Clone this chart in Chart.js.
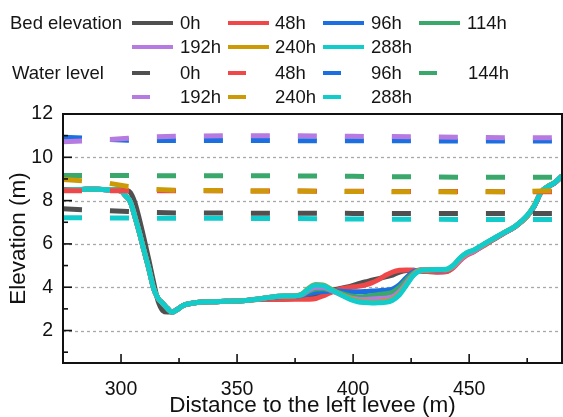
<!DOCTYPE html>
<html>
<head>
<meta charset="utf-8">
<script src="https://cdn.jsdelivr.net/npm/chart.js@4.4.1/dist/chart.umd.min.js"></script>
<style>
  html, body { margin: 0; padding: 0; background: #fff; }
  #wrap { position: relative; width: 563px; height: 417px; overflow: hidden; }
  #c { position: absolute; left: 0; top: 0; }
  #legend { position: absolute; left: 0; top: 0; width: 563px; height: 110px; font-family: "Liberation Sans", Arial, sans-serif; font-size: 18.5px; color: #151515; }
  #legend .t { position: absolute; line-height: 20px; white-space: nowrap; transform: translateY(-50%); }
  #legend .s { position: absolute; height: 4px; transform: translateY(-50%); }
</style>
</head>
<body>
<div id="wrap">
  <canvas id="c" width="563" height="417"></canvas>
  <div id="legend"></div>
</div>
<script>
// ---------------- DATA ----------------
const bedX = [275,280,285,290,295,300,302,304,306,308,310,312,314,316,318,320,322,324,327,330,335,340,345,350,355,360,365,370,375,378,381,384,387,390,393,396,399,402,405,408,411,414,417,420,423,426,429,432,436,440,443,446,449,452,456,460,465,470,475,478,481,484,487,490];

const bed0h   = [8.50,8.50,8.52,8.52,8.50,8.50,8.48,8.38,7.90,7.10,6.20,5.25,4.25,3.35,2.92,2.85,2.85,2.97,3.17,3.25,3.32,3.33,3.35,3.36,3.40,3.45,3.45,3.45,3.48,3.52,3.60,3.68,3.76,3.84,3.91,3.98,4.05,4.15,4.24,4.32,4.40,4.48,4.56,4.70,4.77,4.78,4.75,4.72,4.70,4.72,4.92,5.28,5.52,5.66,5.92,6.18,6.50,6.81,7.28,7.73,8.38,8.63,8.83,9.13];
const bed48h  = [8.47,8.50,8.52,8.52,8.50,8.44,8.22,7.95,7.25,6.49,5.65,4.85,3.95,3.48,3.25,3.02,2.85,2.95,3.17,3.25,3.32,3.33,3.35,3.36,3.40,3.45,3.45,3.45,3.45,3.45,3.45,3.48,3.60,3.74,3.86,3.95,4.00,4.04,4.10,4.20,4.35,4.55,4.70,4.78,4.80,4.78,4.75,4.72,4.70,4.71,4.88,5.22,5.48,5.64,5.90,6.17,6.49,6.80,7.28,7.73,8.38,8.64,8.83,9.13];
const bed96h  = [8.47,8.50,8.52,8.52,8.50,8.44,8.22,7.95,7.25,6.49,5.65,4.85,3.95,3.48,3.25,3.02,2.85,2.95,3.17,3.25,3.32,3.33,3.35,3.36,3.40,3.47,3.53,3.57,3.58,3.62,3.70,3.77,3.80,3.82,3.82,3.80,3.79,3.79,3.80,3.82,3.84,3.86,3.92,4.12,4.45,4.72,4.80,4.80,4.80,4.80,4.95,5.30,5.56,5.69,5.94,6.20,6.51,6.82,7.29,7.74,8.39,8.65,8.84,9.14];
const bed114h = [8.47,8.50,8.52,8.52,8.50,8.44,8.22,7.95,7.25,6.49,5.65,4.85,3.95,3.48,3.25,3.02,2.85,2.95,3.17,3.25,3.32,3.33,3.35,3.36,3.40,3.47,3.55,3.59,3.60,3.64,3.82,3.92,3.93,3.86,3.77,3.68,3.60,3.56,3.57,3.62,3.66,3.70,3.77,4.00,4.35,4.65,4.79,4.80,4.81,4.81,4.97,5.32,5.57,5.70,5.95,6.21,6.51,6.82,7.29,7.75,8.39,8.66,8.84,9.14];
const bed192h = [8.47,8.50,8.52,8.52,8.50,8.44,8.22,7.95,7.25,6.49,5.65,4.85,3.95,3.48,3.25,3.02,2.85,2.95,3.17,3.25,3.32,3.33,3.35,3.36,3.40,3.47,3.55,3.59,3.60,3.66,3.88,4.00,4.00,3.88,3.73,3.60,3.50,3.44,3.43,3.46,3.48,3.49,3.56,3.80,4.20,4.60,4.79,4.80,4.81,4.80,4.93,5.26,5.52,5.66,5.93,6.20,6.51,6.82,7.29,7.75,8.39,8.66,8.84,9.14];
const bed240h = [8.47,8.50,8.52,8.52,8.50,8.44,8.22,7.95,7.25,6.49,5.65,4.85,3.95,3.48,3.25,3.02,2.85,2.95,3.17,3.25,3.32,3.33,3.35,3.36,3.40,3.47,3.55,3.59,3.60,3.69,3.97,4.12,4.10,3.94,3.77,3.61,3.47,3.37,3.33,3.31,3.32,3.35,3.45,3.70,4.14,4.57,4.78,4.80,4.82,4.82,4.98,5.33,5.58,5.71,5.96,6.21,6.52,6.83,7.30,7.78,8.40,8.67,8.85,9.15];
const bed288h = [8.47,8.50,8.52,8.52,8.50,8.44,8.22,7.95,7.25,6.49,5.65,4.85,3.95,3.48,3.25,3.02,2.85,2.95,3.17,3.25,3.32,3.33,3.35,3.36,3.40,3.47,3.55,3.59,3.60,3.68,3.95,4.10,4.08,3.92,3.75,3.58,3.43,3.33,3.29,3.27,3.28,3.30,3.40,3.65,4.10,4.55,4.77,4.80,4.82,4.83,5.00,5.35,5.60,5.72,5.97,6.22,6.52,6.83,7.32,7.75,8.40,8.65,8.85,9.15];

const wlX = [275,285,295,303,315,325,350,375,400,425,450,475,490];
const wl0h   = [7.62,7.57,7.53,7.50,7.45,7.43,7.42,7.42,7.41,7.40,7.40,7.41,7.41];
const wl48h  = [8.46,8.46,8.46,8.46,8.45,8.45,8.45,8.44,8.43,8.42,8.42,8.41,8.41];
const wl96h  = [10.93,10.88,10.82,10.79,10.78,10.78,10.78,10.77,10.76,10.76,10.75,10.75,10.75];
const wl144h = [9.16,9.16,9.16,9.16,9.15,9.15,9.15,9.14,9.12,9.10,9.08,9.08,9.08];
const wl192h = [10.72,10.76,10.82,10.88,10.95,10.98,11.00,11.00,10.97,10.95,10.92,10.90,10.90];
const wl240h = [8.97,8.90,8.80,8.65,8.52,8.47,8.45,8.44,8.42,8.41,8.40,8.42,8.47];
const wl288h = [7.21,7.21,7.20,7.20,7.19,7.19,7.18,7.17,7.15,7.14,7.13,7.13,7.13];

const bedLabels = ['0h','48h','96h','114h','192h','240h','288h'];
const wlLabels  = ['0h','48h','96h','144h','192h','240h','288h'];
const bedSeries = [bed0h, bed48h, bed96h, bed114h, bed192h, bed240h, bed288h];
const wlSeries  = [wl0h, wl48h, wl96h, wl144h, wl192h, wl240h, wl288h];
const colors = ['#505050','#f04848','#1c6fe0','#3aa86b','#b57be0','#cc9a06','#12cccc'];

const xTicks = [300, 350, 400, 450];
const xMinor = [325, 375, 425, 475];
const yTicks = [2, 4, 6, 8, 10, 12];
const yMinor = [1, 3, 5, 7, 9, 11];
const xRange = [275, 490];
const yRange = [0.5, 12];

// ---------------- LEGEND (HTML text) ----------------
(function buildLegend() {
  const lg = document.getElementById('legend');
  const colX = [132, 228, 323, 419];
  const textX = [180, 275, 371, 467];
  const groups = [
    { title: 'Bed elevation', tx: 10, rows: [22.7, 46.7], labels: bedLabels, sw: 41 },
    { title: 'Water level',   tx: 12, rows: [72.7, 97.3], labels: wlLabels,  sw: 18 }
  ];
  groups.forEach(g => {
    const t = document.createElement('div');
    t.className = 't'; t.textContent = g.title;
    t.style.left = g.tx + 'px'; t.style.top = g.rows[0] + 'px';
    lg.appendChild(t);
    g.labels.forEach((lab, i) => {
      const r = i < 4 ? 0 : 1, c = i < 4 ? i : i - 4;
      const s = document.createElement('div');
      s.className = 's';
      s.style.left = colX[c] + 'px'; s.style.top = g.rows[r] + 'px';
      s.style.width = g.sw + 'px'; s.style.background = colors[i];
      lg.appendChild(s);
      const tt = document.createElement('div');
      tt.className = 't'; tt.textContent = lab;
      tt.style.left = (textX[c] + (g.sw < 30 && c === 3 ? 1 : 0)) + 'px';
      tt.style.top = g.rows[r] + 'px';
      lg.appendChild(tt);
    });
  });
})();

// ---------------- CHART ----------------
const datasets = [];
bedSeries.forEach((ys, i) => {
  datasets.push({
    label: 'Bed ' + bedLabels[i],
    data: bedX.map((x, k) => ({ x: x, y: ys[k] })),
    borderColor: colors[i],
    borderWidth: 5,
    pointRadius: 0,
    cubicInterpolationMode: 'monotone',
    fill: false,
    order: 14 - i
  });
});
wlSeries.forEach((ys, i) => {
  datasets.push({
    label: 'Water ' + wlLabels[i],
    data: wlX.map((x, k) => ({ x: x, y: ys[k] })),
    borderColor: colors[i],
    borderWidth: 5,
    borderDash: [19, 28],
    borderCapStyle: 'butt',
    pointRadius: 0,
    tension: 0,
    fill: false,
    order: 7 - i
  });
});

const FONT = '"Liberation Sans", Arial, sans-serif';

const framePlugin = {
  id: 'frame',
  beforeDatasetsDraw(chart) {
    const { ctx, chartArea: a, scales: { y } } = chart;
    ctx.save();
    ctx.strokeStyle = '#a8a8a8';
    ctx.lineWidth = 1.3;
    ctx.setLineDash([3, 3]);
    yTicks.filter(v => v < yRange[1]).forEach(v => {
      const py = Math.round(y.getPixelForValue(v)) + 0.5;
      ctx.beginPath(); ctx.moveTo(a.left, py); ctx.lineTo(a.right, py); ctx.stroke();
    });
    ctx.restore();
  },
  afterDatasetsDraw(chart) {
    const { ctx, chartArea: a, scales: { x, y } } = chart;
    ctx.save();
    ctx.strokeStyle = '#111';
    ctx.lineWidth = 2;
    ctx.setLineDash([]);
    ctx.strokeRect(a.left, a.top, a.right - a.left, a.bottom - a.top);
    ctx.lineWidth = 1.6;
    const tick = (vals, len, axis) => vals.forEach(v => {
      ctx.beginPath();
      if (axis === 'x') { const px = x.getPixelForValue(v); ctx.moveTo(px, a.bottom); ctx.lineTo(px, a.bottom - len); }
      else { const py = y.getPixelForValue(v); ctx.moveTo(a.left, py); ctx.lineTo(a.left + len, py); }
      ctx.stroke();
    });
    tick(xTicks, 9, 'x'); tick(xMinor, 5, 'x');
    tick(yTicks, 9, 'y'); tick(yMinor, 5, 'y');
    ctx.restore();
  }
};

new Chart(document.getElementById('c'), {
  type: 'line',
  data: { datasets },
  options: {
    responsive: false,
    animation: false,
    devicePixelRatio: 1,
    layout: { padding: { top: 114, right: 1, left: 0, bottom: 0 } },
    plugins: { legend: { display: false }, tooltip: { enabled: false } },
    scales: {
      x: {
        type: 'linear',
        min: xRange[0], max: xRange[1],
        afterBuildTicks: s => { s.ticks = xTicks.map(v => ({ value: v })); },
        afterFit: s => { s.height = 54; },
        grid: { display: false, drawTicks: false },
        border: { display: false },
        ticks: { color: '#111', padding: 15, font: { family: FONT, size: 19.5 }, maxRotation: 0 },
        title: { display: true, text: 'Distance to the left levee (m)', color: '#111',
                 font: { family: FONT, size: 22.5, lineHeight: 1 }, padding: { top: 0, bottom: 0 } }
      },
      y: {
        type: 'linear',
        min: yRange[0], max: yRange[1],
        afterBuildTicks: s => { s.ticks = yTicks.map(v => ({ value: v })); },
        afterFit: s => { s.width = 63; },
        grid: { display: false, drawTicks: false },
        border: { display: false },
        ticks: { color: '#111', padding: 10, font: { family: FONT, size: 19.5 } },
        title: { display: true, text: 'Elevation (m)', color: '#111',
                 font: { family: FONT, size: 22.5, lineHeight: 1 }, padding: { top: 8, bottom: 0 } }
      }
    }
  },
  plugins: [framePlugin]
});
</script>
</body>
</html>
